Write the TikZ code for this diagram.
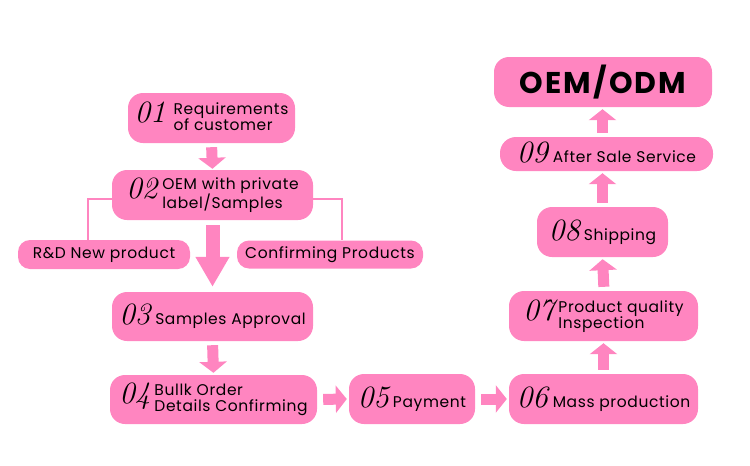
\documentclass[tikz,border=0pt]{standalone}
\usepackage{fontspec}
\setmainfont{Poppins}[LetterSpace=4]
\newfontfamily\numfont{Latin Modern Roman}
\newfontfamily\bigfont{Poppins}[LetterSpace=7]
\usetikzlibrary{arrows.meta}
\definecolor{pinkc}{HTML}{FF85C0}
\newcommand{\nm}[1]{{\numfont\itshape\fontsize{31}{31}\selectfont #1}}
\newcommand{\tx}[1]{{\fontsize{15.5}{13}\selectfont\begin{tabular}{@{}l@{}}#1\end{tabular}}}
\tikzset{
  box/.style={fill=pinkc, rounded corners=15pt, inner sep=0pt, align=center, text=black},
  sbox/.style={fill=pinkc, rounded corners=12pt, inner sep=0pt, align=center, text=black, font=\fontsize{15.5}{16}\selectfont},
  conn/.style={draw=pinkc, line width=2pt},
  barrow/.style={draw=pinkc, line width=11pt, -{Triangle[width=27pt,length=11pt]}, pinkc, shorten <=4pt, shorten >=2pt},
  bigarrow/.style={draw=pinkc, line width=14pt, -{Triangle[width=32pt,length=30pt]}, pinkc, shorten <=5pt, shorten >=5pt}
}
\begin{document}
\begin{tikzpicture}[x=1pt,y=-1pt]
\useasboundingbox (0,0) rectangle (750,466);
\node[box, minimum width=167pt, minimum height=50pt] (n1) at (211.5,118) {\nm{01}\hspace{8pt}\tx{Requirements\\of customer}};
\node[box, minimum width=201pt, minimum height=50pt] (n2) at (212.5,195) {\nm{02}\hspace{5pt}\tx{OEM with private\\label/Samples}};
\node[sbox, minimum width=172pt, minimum height=29pt] (rd) at (104,254.5) {R\&D New product};
\node[sbox, minimum width=186pt, minimum height=28pt] (cf) at (330,254.5) {Confirming Products};
\node[box, minimum width=201pt, minimum height=49pt] (n3) at (212.5,316.5) {\nm{03}\hspace{5pt}\tx{Samples Approval}};
\node[box, minimum width=207pt, minimum height=49pt] (n4) at (213.5,399.5) {\nm{04}\hspace{4pt}\tx{Bullk Order\\Details Confirming}};
\node[box, minimum width=126pt, minimum height=50pt] (n5) at (412,399) {\nm{05}\hspace{4pt}\tx{Payment}};
\node[box, minimum width=189pt, minimum height=50pt] (n6) at (603.5,399) {\nm{06}\hspace{5pt}\tx{Mass production}};
\node[box, minimum width=189pt, minimum height=50pt] (n7) at (603.5,316) {\nm{07}\hspace{4pt}\tx{Product quality\\Inspection}};
\node[box, minimum width=131pt, minimum height=50pt] (n8) at (602.5,232) {\nm{08}\hspace{4pt}\tx{Shipping}};
\node[box, rounded corners=16pt, minimum width=213pt, minimum height=34pt] (n9) at (606.5,154) {\nm{09}\hspace{5pt}\tx{After Sale Service}};
\node[box, minimum width=218pt, minimum height=50pt, font=\bigfont\bfseries\fontsize{30}{30}\selectfont] (oem) at (603,82) {OEM/ODM};
% thin connectors
\draw[conn] ([yshift=-4pt]n2.west) -| ([xshift=-16pt]rd.north);
\draw[conn] ([yshift=-4pt]n2.east) -| ([xshift=12pt]cf.north);
% block arrows
\draw[barrow] (n1.south) -- ([yshift=-1pt]n2.north);
\draw[bigarrow] (n2.south) -- (n3.north);
\draw[barrow] (n3.south) -- (n4.north);
\draw[barrow, shorten <=6pt] (n4.east) -- (n5.west);
\draw[barrow, shorten <=6pt] (n5.east) -- (n6.west);
\draw[barrow] (n6.north) -- (n7.south);
\draw[barrow] ([xshift=0.5pt]n7.north) -- (n8.south);
\draw[barrow] (n8.south |- n8.north) -- (n8.north |- n9.south);
\draw[barrow] (n8.north |- n9.north) -- (n8.north |- oem.south);
\end{tikzpicture}
\end{document}
